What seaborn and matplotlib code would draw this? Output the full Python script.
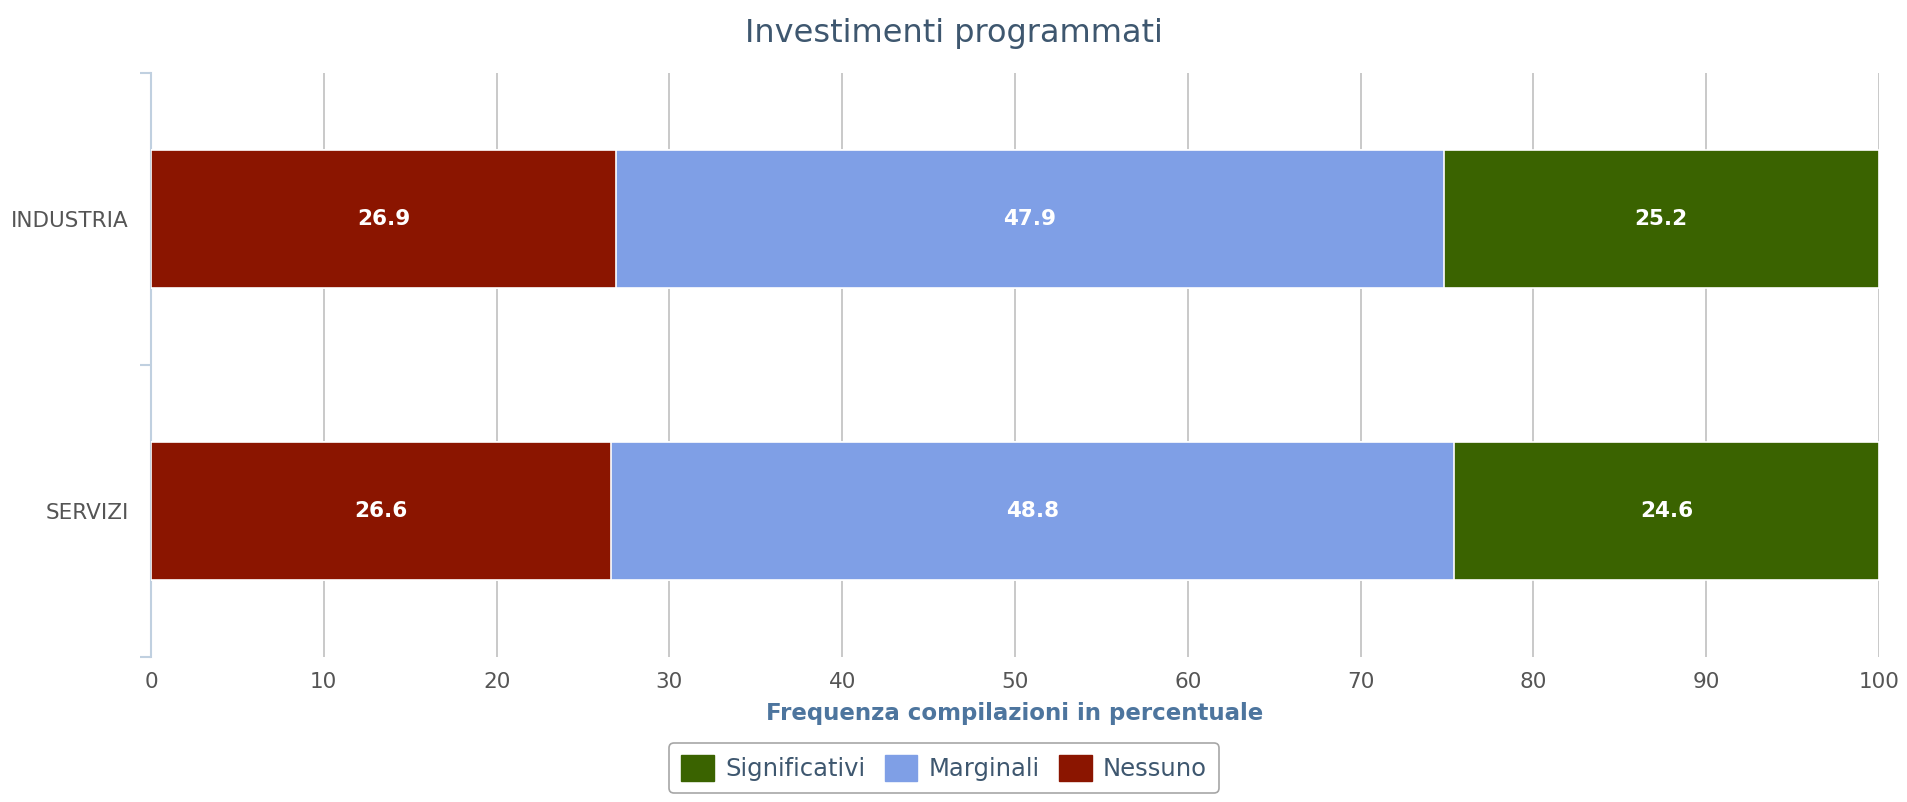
import matplotlib
matplotlib.use("Agg")
import matplotlib.pyplot as plt
import seaborn as sns
import numpy as np
import pandas as pd
from matplotlib.patches import Patch

categories = ["INDUSTRIA", "SERVIZI"]
nessuno = [26.9, 26.6]
marginali = [47.9, 48.8]
significativi = [25.2, 24.6]
series_names = ["Significativi", "Marginali", "Nessuno"]
colors = {"Significativi": "#3A6300", "Marginali": "#7F9FE6", "Nessuno": "#8B1500"}
xticks = [0, 10, 20, 30, 40, 50, 60, 70, 80, 90, 100]

sns.set_theme(style="white")
plt.rcParams['font.family'] = ['DejaVu Sans']

fig = plt.figure(figsize=(19.07, 8.02), dpi=100)
ax = fig.add_axes([151/1907, 1-657/802, (1879-151)/1907, (657-73)/802])

n = np.array(nessuno)
m = np.array(marginali)
s = np.array(significativi)
df = pd.DataFrame({
    "cat": categories,
    "Nessuno": n,
    "Marginali": n + m,
    "Significativi": n + m + s,
})

for name in ["Significativi", "Marginali", "Nessuno"]:
    sns.barplot(data=df, x=name, y="cat", orient="h", color=colors[name],
                width=0.47, edgecolor="white", linewidth=1.2, saturation=1,
                ax=ax, zorder=3)

# data labels
for i, cat in enumerate(categories):
    starts = [0, n[i], n[i] + m[i]]
    vals = [n[i], m[i], s[i]]
    for st, v in zip(starts, vals):
        ax.text(st + v / 2, i, f"{v:.1f}", ha="center", va="center",
                color="white", fontsize=15.5, fontweight="bold", zorder=5)

ax.set_xlim(0, 100)
ax.set_ylim(1.5, -0.5)
ax.set_xticks(xticks)
ax.set_xticklabels([str(t) for t in xticks])
ax.xaxis.grid(True, color="#C0C0C0", linewidth=1.2, zorder=0)
ax.yaxis.grid(False)
ax.set_axisbelow(True)

for sp in ["top", "right", "bottom"]:
    ax.spines[sp].set_visible(False)
ax.spines["left"].set_color("#C0D0E0")
ax.spines["left"].set_linewidth(1.5)

ax.set_yticks([0, 1])
ax.set_yticklabels(categories)
ax.set_yticks([-0.5, 0.5, 1.5], minor=True)
ax.tick_params(axis="y", which="major", length=0, pad=16, labelsize=15.5, labelcolor="#555555")
ax.tick_params(axis="y", which="minor", length=8, width=1.5, color="#C0D0E0", left=True)
ax.tick_params(axis="x", length=0, pad=11, labelsize=15.5, labelcolor="#555555")

ax.set_ylabel("")
ax.set_xlabel("Frequenza compilazioni in percentuale", fontsize=16.5, fontweight="bold",
              color="#4D759E", labelpad=7)

fig.suptitle("Investimenti programmati", x=0.5, y=0.978, fontsize=23, color="#3E576F",
             va="top")

handles = [Patch(facecolor=colors[k], edgecolor=colors[k], label=k) for k in series_names]
leg = fig.legend(handles=handles, loc="lower center", bbox_to_anchor=(0.495, -0.004),
                 ncol=3, frameon=True, fontsize=17.5, handlelength=1.35, handleheight=1.25,
                 columnspacing=0.8, handletextpad=0.45, borderpad=0.5,
                 edgecolor="#909090", fancybox=True)
for t in leg.get_texts():
    t.set_color("#3E576F")
leg.get_frame().set_linewidth(1.2)

fig.savefig("out.png", dpi=100, facecolor="white")
